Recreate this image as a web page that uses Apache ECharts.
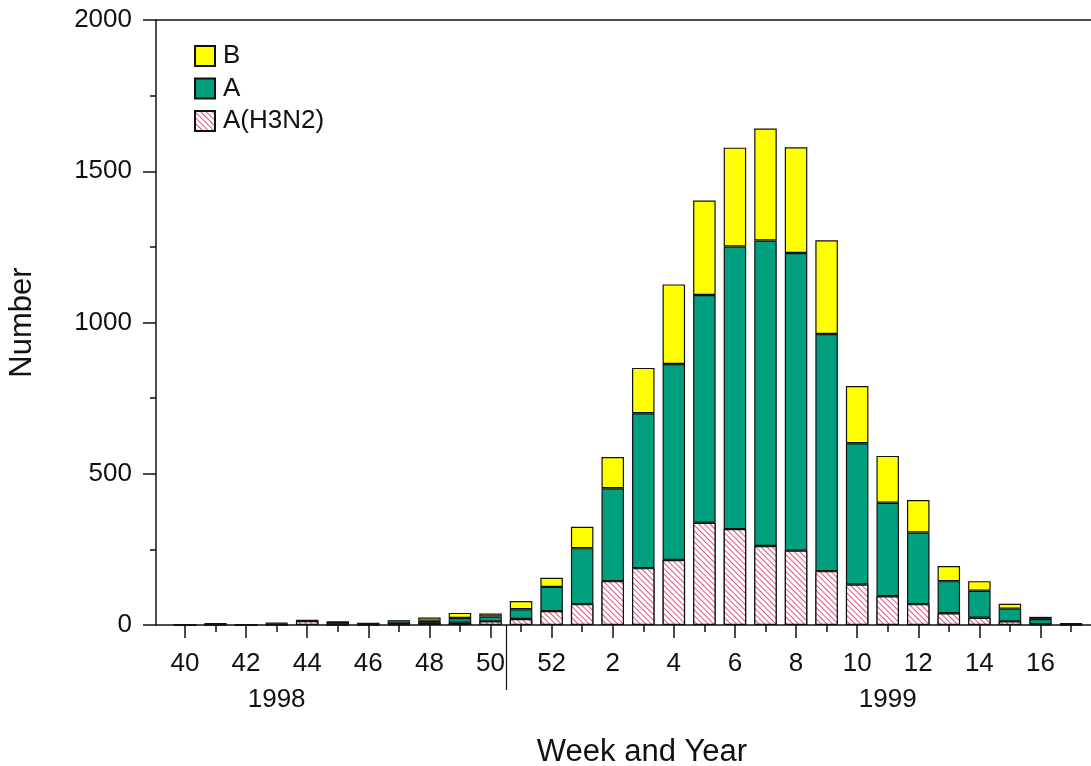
<!DOCTYPE html>
<html>
<head>
<meta charset="utf-8">
<script src="https://cdn.jsdelivr.net/npm/echarts@6/dist/echarts.min.js"></script>
<style>
html,body{margin:0;padding:0;background:#fff;}
#chart{width:1091px;height:766px;}
</style>
</head>
<body>
<div id="chart"></div>
<script>
// Week categories (1998 weeks 40-52, 1999 weeks 1-17)
const weeks = ['40','41','42','43','44','45','46','47','48','49','50','51','52',
               '1','2','3','4','5','6','7','8','9','10','11','12','13','14','15','16','17'];
// Year labels and the category index under which each is centred
const yearNames = ['1998', '1999'];
const yearIndex = [3, 23];
// separator sits on the band boundary between week 50 and week 51
const separatorPos = [10.5];

// Stacked segment values
const seriesH3N2 = [0,1,0,1,13,1,1,3,8,8,12,20,46,
                    69,145,188,215,338,317,261,246,178,134,95,69,39,24,12,3,1];
const seriesA    = [1,3,1,4,2,9,4,8,6,15,16,32,80,
                    185,307,512,648,753,934,1010,984,784,467,309,237,106,89,42,17,3];
const seriesB    = [1,1,1,2,1,1,1,5,11,17,10,27,30,
                    71,103,150,263,312,327,370,349,310,189,155,107,50,32,16,7,1];

const FONT = "'Liberation Sans', Arial, sans-serif";
const INK = '#111';
const lineStyle = { color: INK, width: 1.5 };

const chart = echarts.init(document.getElementById('chart'), null, { renderer: 'canvas' });

const barBorder = { borderColor: INK, borderWidth: 1.2 };

const option = {
  backgroundColor: '#ffffff',
  animation: false,
  textStyle: { fontFamily: FONT, color: INK },
  legend: {
    data: ['B', 'A', 'A(H3N2)'],
    orient: 'vertical',
    left: 189,
    top: 38,
    itemWidth: 20,
    itemHeight: 20,
    itemGap: 6.5,
    icon: 'rect',
    selectedMode: false,
    textStyle: { fontSize: 26, lineHeight: 26, color: INK, fontFamily: FONT, padding: [0, 0, 0, 3] }
  },
  grid: [
    { left: 169.7, right: 4.7, top: 20, bottom: 141, outerBoundsMode: 'none' },
    { left: 156, right: 0, top: 20, bottom: 141, outerBoundsMode: 'none' }
  ],
  xAxis: [
    {
      type: 'category', gridIndex: 0, data: weeks, position: 'bottom',
      axisLine: { show: false },
      axisTick: { show: true, alignWithLabel: true, interval: 1, length: 13, lineStyle: lineStyle },
      axisLabel: { interval: 1, margin: 26, fontSize: 26, color: INK, fontFamily: FONT },
      splitLine: { show: false }
    },
    {
      type: 'category', gridIndex: 0, data: weeks, position: 'bottom',
      axisLine: { show: false },
      axisTick: { show: true, alignWithLabel: true, interval: 0, length: 7, lineStyle: lineStyle },
      axisLabel: { show: false },
      splitLine: { show: false }
    },
    {
      type: 'category', gridIndex: 0, data: weeks, position: 'bottom',
      axisLine: { show: false },
      axisTick: { show: false },
      axisLabel: {
        interval: 0, margin: 62, fontSize: 26, color: INK, fontFamily: FONT,
        formatter: function (v, i) { const k = yearIndex.indexOf(i); return k >= 0 ? yearNames[k] : ''; }
      },
      splitLine: { show: false }
    },
    {
      type: 'value', gridIndex: 1, min: 0, max: 1, position: 'bottom',
      axisLine: { show: true, onZero: false, lineStyle: lineStyle },
      axisTick: { show: false }, axisLabel: { show: false }, splitLine: { show: false },
      name: 'Week and Year', nameLocation: 'middle', nameGap: 112,
      nameTextStyle: { fontSize: 31, color: INK, fontFamily: FONT, padding: [0, 0, 0, 37] }
    },
    {
      type: 'value', gridIndex: 1, min: 0, max: 1, position: 'top',
      axisLine: { show: true, onZero: false, lineStyle: lineStyle },
      axisTick: { show: false }, axisLabel: { show: false }, splitLine: { show: false }
    },
    {
      // band-index scale of the bar grid, used only for the year separator tick
      type: 'value', gridIndex: 0, min: -0.5, max: weeks.length - 0.5, position: 'bottom',
      axisLine: { show: false },
      axisTick: { show: true, length: 65, customValues: separatorPos, lineStyle: { color: INK, width: 1.2 } },
      axisLabel: { show: false }, splitLine: { show: false }
    }
  ],
  yAxis: [
    { type: 'value', gridIndex: 0, min: 0, max: 2000, show: false },
    {
      type: 'value', gridIndex: 1, min: 0, max: 2000, interval: 500, position: 'left',
      axisLine: { show: true, onZero: false, lineStyle: lineStyle },
      axisTick: { show: true, length: 13, lineStyle: lineStyle },
      minorTick: { show: true, splitNumber: 2, length: 6, lineStyle: lineStyle },
      axisLabel: { margin: 24, fontSize: 26, color: INK, fontFamily: FONT,
                   formatter: function (v) { return String(v); } },
      splitLine: { show: false }, minorSplitLine: { show: false },
      name: 'Number', nameLocation: 'middle', nameGap: 118,
      nameTextStyle: { fontSize: 31, color: INK, fontFamily: FONT }
    }
  ],
  series: [
    {
      name: 'A(H3N2)', type: 'bar', stack: 'total', xAxisIndex: 0, yAxisIndex: 0,
      barWidth: 22.5, data: seriesH3N2,
      itemStyle: Object.assign({
        color: '#ffffff',
        decal: {
          symbol: 'rect', symbolSize: 1,
          dashArrayX: [1, 0], dashArrayY: [1, 3],
          rotation: Math.PI / 4,
          color: '#e0557e', backgroundColor: '#ffffff'
        }
      }, barBorder)
    },
    {
      name: 'A', type: 'bar', stack: 'total', xAxisIndex: 0, yAxisIndex: 0,
      barWidth: 22.5, data: seriesA,
      itemStyle: Object.assign({ color: '#00a07f' }, barBorder)
    },
    {
      name: 'B', type: 'bar', stack: 'total', xAxisIndex: 0, yAxisIndex: 0,
      barWidth: 22.5, data: seriesB,
      itemStyle: Object.assign({ color: '#ffff00' }, barBorder)
    }
  ]
};

chart.setOption(option);
</script>
</body>
</html>
